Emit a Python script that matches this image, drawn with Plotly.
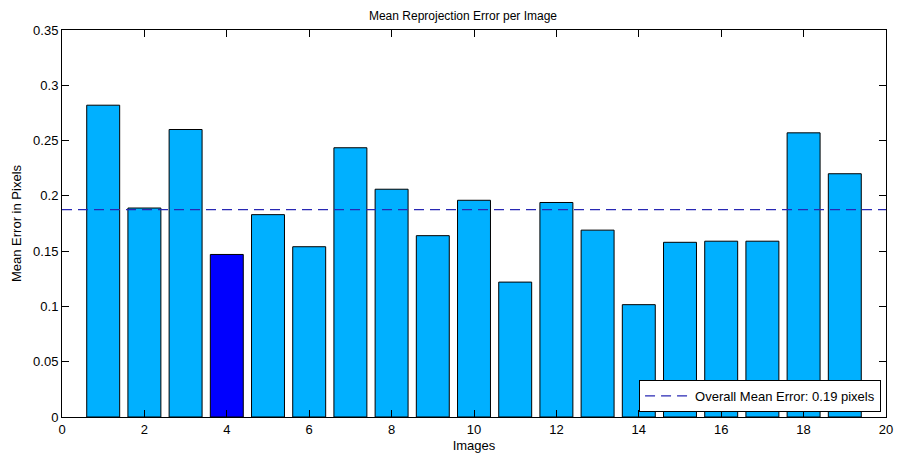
import numpy as np
import plotly.graph_objects as go

images = list(range(1, 20))
errors = [0.282, 0.189, 0.260, 0.147, 0.183, 0.154, 0.2435, 0.206, 0.164, 0.196,
          0.122, 0.194, 0.169, 0.1016, 0.158, 0.159, 0.159, 0.257, 0.220]
highlight_image = 4
x_ticks = [0, 2, 4, 6, 8, 10, 12, 14, 16, 18, 20]
y_ticks = [0, 0.05, 0.1, 0.15, 0.2, 0.25, 0.3, 0.35]
y_tick_labels = ["0", "0.05", "0.1", "0.15", "0.2", "0.25", "0.3", "0.35"]

overall_mean = float(np.mean(errors))

colors = ["#0000FF" if i == highlight_image else "#00B0FF" for i in images]

fig = go.Figure()
fig.add_trace(go.Bar(
    x=images, y=errors, width=0.8,
    marker=dict(color=colors, line=dict(color="black", width=1)),
    showlegend=False,
))
fig.add_trace(go.Scatter(
    x=[0, 20], y=[overall_mean, overall_mean], mode="lines",
    line=dict(color="#2828B4", width=1.2, dash="10px,6px"),
    name="Overall Mean Error: %.2f pixels" % overall_mean,
))

W, H = 910, 465
font = dict(family="Liberation Sans, Arial, sans-serif", size=12, color="black")
font13 = dict(family="Liberation Sans, Arial, sans-serif", size=13, color="black")
fig.update_layout(
    width=W, height=H,
    margin=dict(l=54, r=32, t=22, b=56, autoexpand=False),
    paper_bgcolor="white", plot_bgcolor="white",
    font=font,
    title=dict(text="Mean Reprojection Error per Image", x=0.5, xanchor="center",
               y=1 - 8 / H, yanchor="middle", font=font),
    xaxis=dict(range=[0, 20], tickvals=x_ticks, ticks="inside", ticklen=7,
               tickcolor="black", showline=True, linecolor="black", linewidth=1,
               mirror="ticks", showgrid=False, zeroline=False, automargin=False,
               tickfont=font13,
               title=dict(text="Images", standoff=5, font=font13)),
    yaxis=dict(range=[0, 0.35], tickvals=y_ticks, ticktext=y_tick_labels,
               ticks="inside", ticklen=7, tickcolor="black", showline=True,
               linecolor="black", linewidth=1, mirror="ticks", showgrid=False,
               zeroline=False, automargin=False, tickfont=font13,
               title=dict(text="Mean Error in Pixels", standoff=8, font=font13)),
    legend=dict(x=0.994, xanchor="right", y=0.013, yanchor="bottom",
                bordercolor="black", borderwidth=1, bgcolor="white",
                font=font13, itemwidth=45),
    bargap=0.2,
)

fig.write_html("out.html")
